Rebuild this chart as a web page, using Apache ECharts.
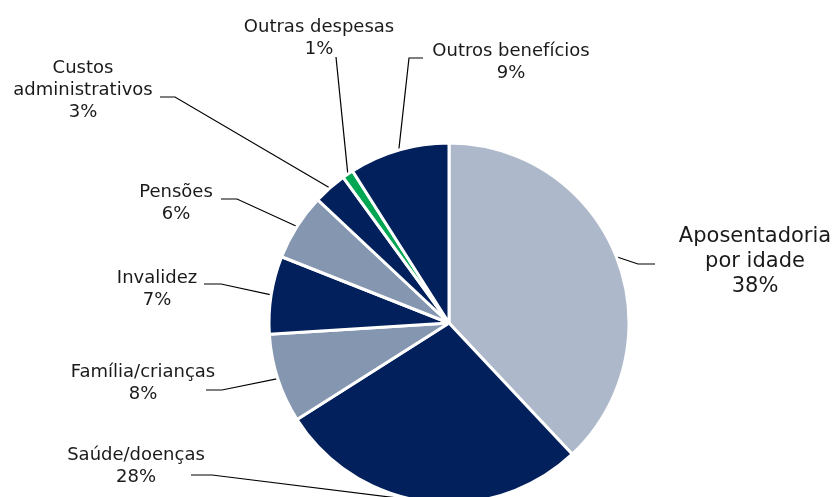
<!DOCTYPE html>
<html>
<head>
<meta charset="utf-8">
<script src="https://cdn.jsdelivr.net/npm/echarts@6/dist/echarts.min.js"></script>
<style>
  html, body { margin: 0; padding: 0; background: #fff; }
  #chart { width: 834px; height: 497px; }
</style>
</head>
<body>
<div id="chart"></div>
<script>
// categorias e valores (%), sentido horário a partir do topo
const categories = [
  "Aposentadoria\npor idade",
  "Saúde/doenças",
  "Família/crianças",
  "Invalidez",
  "Pensões",
  "Custos\nadministrativos",
  "Outras despesas",
  "Outros benefícios",
];
const values = [38, 28, 8, 7, 6, 3, 1, 9];

const colors = ["#adb9ca", "#02205c", "#8496b0", "#02205c", "#8496b0", "#02205c", "#00a651", "#02205c"];

// geometria da pizza
const CX = 449, CY = 323, R = 180, START = 90;

// posição dos rótulos (centro do texto), ponto de ligação relativo e cotovelo horizontal
const labelSpots = [
  { x: 755, y: 262, ax: -100, ay: 2, elbow: -17 },
  { x: 136, y: 466, ax: 55, ay: 9, elbow: 21 },
  { x: 143, y: 383, ax: 63, ay: 7, elbow: 16 },
  { x: 157, y: 289, ax: 47, ay: -5, elbow: 17 },
  { x: 176, y: 203, ax: 45, ay: -4, elbow: 16 },
  { x: 83, y: 90, ax: 77, ay: 7, elbow: 15 },
  { x: 319, y: 38, ax: 17, ay: 19, elbow: 0 },
  { x: 511, y: 62, ax: -88, ay: -4, elbow: -14 },
];

const total = values.reduce((a, b) => a + b, 0);
const midAngles = [];
let cum = 0;
values.forEach((v) => {
  midAngles.push(START - (360 * (cum + v / 2)) / total);
  cum += v;
});

const chart = echarts.init(document.getElementById("chart"));

const seriesData = categories.map((name, i) => ({
  name: name,
  value: values[i],
  itemStyle: { color: colors[i] },
  label: i === 0 ? { fontSize: 21, lineHeight: 25 } : {},
}));

const option = {
  backgroundColor: "#ffffff",
  animation: false,
  series: [
    {
      type: "pie",
      center: [CX, CY],
      radius: R,
      startAngle: START,
      clockwise: true,
      avoidLabelOverlap: false,
      itemStyle: { borderColor: "#ffffff", borderWidth: 3 },
      label: {
        show: true,
        position: "outside",
        formatter: "{b}\n{c}%",
        color: "#1a1a1a",
        fontFamily: "DejaVu Sans",
        fontSize: 18,
        lineHeight: 22,
      },
      labelLine: {
        show: true,
        lineStyle: { color: "#000000", width: 1.2 },
      },
      labelLayout: function (params) {
        const i = params.dataIndex;
        const s = labelSpots[i];
        const a = (midAngles[i] * Math.PI) / 180;
        const p0 = [CX + R * Math.cos(a), CY - R * Math.sin(a)];
        const p2 = [s.x + s.ax, s.y + s.ay];
        const p1 = [p2[0] + s.elbow, p2[1]];
        return {
          x: s.x,
          y: s.y,
          align: "center",
          verticalAlign: "middle",
          labelLinePoints: [p0, p1, p2],
        };
      },
      data: seriesData,
    },
  ],
};

chart.setOption(option);
</script>
</body>
</html>
